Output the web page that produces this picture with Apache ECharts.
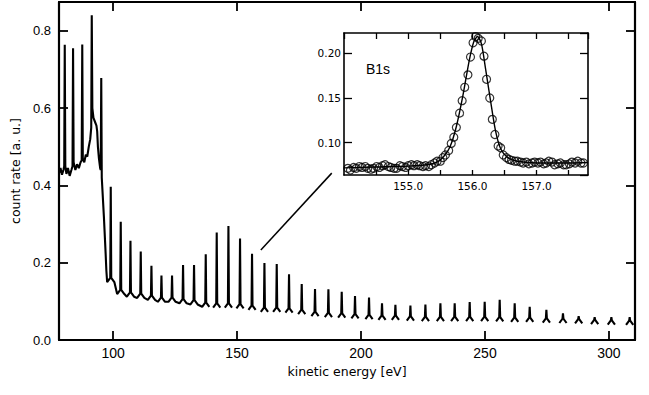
<!DOCTYPE html>
<html><head><meta charset="utf-8">
<script src="https://cdn.jsdelivr.net/npm/echarts@6/dist/echarts.min.js"></script>
<style>html,body{margin:0;padding:0;background:#fff}#c{width:649px;height:395px}</style>
</head><body><div id="c"></div>
<script>
// ---- Main spectrum: low-energy continuous trace (80-97 eV) ----
const lowE = [78.2, 78.8, 79.4, 80.0, 80.3, 80.52, 80.75, 81.2, 81.8, 82.5, 83.2, 83.65, 83.87, 84.1, 84.8, 85.5, 86.2, 86.9, 87.35, 87.58, 87.8, 88.4, 89.0, 89.6, 90.2, 90.8, 91.2, 91.41, 91.65, 92.1, 92.7, 93.3, 93.6, 93.9, 94.3, 94.8, 95.02, 95.24, 95.45, 96.3, 97.0, 97.3];
const lowV = [0.432, 0.445, 0.428, 0.44, 0.45, 0.764, 0.45, 0.43, 0.445, 0.425, 0.44, 0.45, 0.755, 0.46, 0.44, 0.455, 0.445, 0.46, 0.465, 0.765, 0.47, 0.46, 0.48, 0.475, 0.5, 0.52, 0.55, 0.841, 0.6, 0.575, 0.565, 0.555, 0.54, 0.5, 0.47, 0.445, 0.44, 0.678, 0.42, 0.32, 0.225, 0.18];

// ---- Main spectrum: sharp peaks above 98 eV ----
const peakE = [99.07, 103.10, 107.02, 111.17, 115.48, 119.52, 123.79, 128.23, 132.66, 137.38, 141.81, 146.53, 151.21, 156.05, 161.05, 166.01, 170.97, 176.09, 181.45, 186.85, 192.22, 197.58, 203.23, 208.47, 213.87, 219.92, 225.97, 232.02, 237.78, 243.83, 249.88, 255.93, 261.98, 268.03, 274.76, 281.45, 287.78, 294.23, 300.97, 308.35];
const peakTop = [0.397, 0.306, 0.257, 0.229, 0.192, 0.167, 0.167, 0.194, 0.194, 0.222, 0.278, 0.295, 0.263, 0.223, 0.199, 0.197, 0.170, 0.145, 0.132, 0.131, 0.125, 0.114, 0.110, 0.095, 0.091, 0.089, 0.092, 0.095, 0.095, 0.098, 0.099, 0.104, 0.095, 0.086, 0.078, 0.069, 0.062, 0.059, 0.059, 0.059];
const peakBase = [0.150, 0.119, 0.112, 0.109, 0.104, 0.099, 0.099, 0.095, 0.092, 0.086, 0.084, 0.084, 0.082, 0.078, 0.073, 0.073, 0.071, 0.067, 0.062, 0.059, 0.058, 0.056, 0.054, 0.052, 0.052, 0.050, 0.049, 0.049, 0.049, 0.049, 0.049, 0.048, 0.047, 0.047, 0.045, 0.044, 0.043, 0.041, 0.040, 0.039];

// ---- Zoom connector (main-chart coordinates) ----
const connE = [159.6, 188.2];
const connV = [0.233, 0.432];

// ---- Inset: B1s measured points ----
const insetE = [154.06,154.10,154.15,154.19,154.24,154.28,154.33,154.37,154.42,154.46,154.51,154.55,154.60,154.64,154.69,154.73,154.78,154.82,154.87,154.91,154.96,155.00,155.05,155.09,155.14,155.18,155.23,155.27,155.32,155.36,155.41,155.45,155.50,155.54,155.58,155.63,155.67,155.71,155.75,155.80,155.84,155.88,155.93,155.97,156.01,156.05,156.09,156.14,156.18,156.22,156.27,156.31,156.35,156.40,156.44,156.48,156.53,156.57,156.61,156.66,156.70,156.75,156.79,156.84,156.88,156.93,156.97,157.02,157.06,157.11,157.15,157.19,157.24,157.28,157.33,157.37,157.42,157.46,157.51,157.55,157.60,157.64,157.69,157.73];
const insetV = [0.071,0.069,0.072,0.071,0.073,0.072,0.073,0.071,0.070,0.071,0.073,0.072,0.074,0.075,0.073,0.072,0.071,0.071,0.074,0.073,0.072,0.074,0.075,0.074,0.075,0.074,0.073,0.074,0.073,0.075,0.077,0.079,0.079,0.083,0.086,0.091,0.099,0.106,0.117,0.133,0.147,0.162,0.176,0.196,0.212,0.219,0.217,0.214,0.197,0.171,0.150,0.126,0.109,0.096,0.094,0.086,0.083,0.081,0.080,0.079,0.079,0.078,0.077,0.078,0.076,0.077,0.078,0.077,0.078,0.076,0.077,0.079,0.078,0.075,0.076,0.077,0.075,0.075,0.076,0.078,0.077,0.079,0.077,0.077];
// ---- Inset: fitted curve ----
const fitE = [154.0, 154.5, 155.0, 155.3, 155.45, 155.55, 155.65, 155.75, 155.85, 155.95, 156.02, 156.08, 156.14, 156.2, 156.28, 156.36, 156.44, 156.55, 156.7, 157.0, 157.5, 157.8];
const fitV = [0.0715, 0.0725, 0.0735, 0.075, 0.078, 0.084, 0.095, 0.118, 0.152, 0.192, 0.213, 0.219, 0.211, 0.185, 0.148, 0.113, 0.093, 0.083, 0.079, 0.077, 0.077, 0.0775];

// ---- Build main line data (peak outline: foot, junction, apex) ----
const FOOT = 1.45, JUNC = 0.2, JUNC_H = 0.011, BREAK_FROM = 135;
const mainData = lowE.map((e, i) => [e, lowV[i]]);
peakE.forEach((e, i) => {
  const b = peakBase[i];
  mainData.push([e - FOOT, b], [e - JUNC, b + JUNC_H], [e, peakTop[i]], [e + JUNC, b + JUNC_H], [e + FOOT, b]);
  if (e >= BREAK_FROM) mainData.push([e + FOOT + 0.01, '-']);
});
const connData = connE.map((e, i) => [e, connV[i]]);
const insetData = insetE.map((e, i) => [e, insetV[i]]);
const fitData = fitE.map((e, i) => [e, fitV[i]]);

const black = '#000';
const tickFont = "'Liberation Sans', Arial, sans-serif";
const titleFont = "'DejaVu Sans', sans-serif";

function frameAxis(extra) {
  return Object.assign({
    type: 'value',
    axisLine: { show: true, onZero: false, lineStyle: { color: black, width: 2.2 } },
    axisTick: { show: true, inside: true, length: 9, lineStyle: { color: black, width: 1.8 } },
    axisLabel: { show: false },
    splitLine: { show: false }
  }, extra);
}

const chart = echarts.init(document.getElementById('c'), null, { renderer: 'svg' });
chart.setOption({
  animation: false,
  backgroundColor: '#fff',
  grid: [
    { left: 59, top: 2, right: 14, bottom: 55 },
    { left: 344, top: 33, right: 61, bottom: 220, show: true, backgroundColor: '#fff', borderWidth: 0 }
  ],
  xAxis: [
    frameAxis({ gridIndex: 0, position: 'bottom', min: 78.2, max: 310.5,
      axisLabel: { show: true, color: black, fontSize: 14, fontFamily: tickFont, margin: 6, showMinLabel: false, showMaxLabel: false },
      name: 'kinetic energy [eV]', nameLocation: 'middle', nameGap: 20,
      nameTextStyle: { color: black, fontSize: 12.5, fontFamily: titleFont } }),
    frameAxis({ gridIndex: 0, position: 'top', min: 78.2, max: 310.5 }),
    frameAxis({ gridIndex: 1, position: 'bottom', min: 154.0, max: 157.8, interval: 0.5,
      axisLine: { show: true, onZero: false, lineStyle: { color: black, width: 1.6 } },
      axisTick: { show: true, inside: true, length: 5, lineStyle: { color: black, width: 1.3 } },
      axisLabel: { show: true, color: black, fontSize: 10.5, fontFamily: titleFont, margin: 5, showMinLabel: false, showMaxLabel: false,
        formatter: v => (Math.abs(v - Math.round(v)) < 1e-6 ? v.toFixed(1) : '') } }),
    frameAxis({ gridIndex: 1, position: 'top', min: 154.0, max: 157.8, interval: 0.5,
      axisLine: { show: true, onZero: false, lineStyle: { color: black, width: 1.6 } },
      axisTick: { show: true, inside: true, length: 6, lineStyle: { color: black, width: 1.3 } } })
  ],
  yAxis: [
    frameAxis({ gridIndex: 0, position: 'left', min: 0, max: 0.875, interval: 0.2,
      axisLabel: { show: true, color: black, fontSize: 13, fontFamily: tickFont, margin: 8, showMaxLabel: false, formatter: v => v.toFixed(1) },
      name: 'count rate [a. u.]', nameLocation: 'middle', nameGap: 31,
      nameTextStyle: { color: black, fontSize: 12.5, fontFamily: titleFont } }),
    frameAxis({ gridIndex: 0, position: 'right', min: 0, max: 0.875, interval: 0.2 }),
    frameAxis({ gridIndex: 1, position: 'left', min: 0.0635, max: 0.223, splitNumber: 3,
      axisLine: { show: true, onZero: false, lineStyle: { color: black, width: 1.6 } },
      axisTick: { show: true, inside: true, length: 8, lineStyle: { color: black, width: 1.3 } },
      axisLabel: { show: true, color: black, fontSize: 10.5, fontFamily: titleFont, margin: 3, showMinLabel: false, showMaxLabel: false, formatter: v => v.toFixed(2) } }),
    frameAxis({ gridIndex: 1, position: 'right', min: 0.0635, max: 0.223, splitNumber: 3,
      axisLine: { show: true, onZero: false, lineStyle: { color: black, width: 1.6 } },
      axisTick: { show: true, inside: true, length: 8, lineStyle: { color: black, width: 1.3 } } })
  ],
  series: [
    { type: 'line', xAxisIndex: 0, yAxisIndex: 0, data: mainData, showSymbol: false, connectNulls: false,
      lineStyle: { color: black, width: 2.1 }, silent: true },
    { type: 'line', xAxisIndex: 0, yAxisIndex: 0, data: connData, showSymbol: false,
      lineStyle: { color: black, width: 1.5 }, silent: true },
    { type: 'scatter', xAxisIndex: 2, yAxisIndex: 2, data: insetData, symbol: 'circle', symbolSize: 8,
      itemStyle: { color: 'rgba(255,255,255,0)', borderColor: black, borderWidth: 1.2 }, silent: true },
    { type: 'line', xAxisIndex: 2, yAxisIndex: 2, data: fitData, showSymbol: false, smooth: 0.25,
      lineStyle: { color: black, width: 1.4 }, silent: true }
  ],
  graphic: [
    { type: 'text', left: 366, top: 62, silent: true,
      style: { text: 'B1s', fill: black, fontSize: 14, fontFamily: "'Liberation Sans Narrow', 'Liberation Sans', sans-serif" } }
  ]
});
</script>
</body></html>
